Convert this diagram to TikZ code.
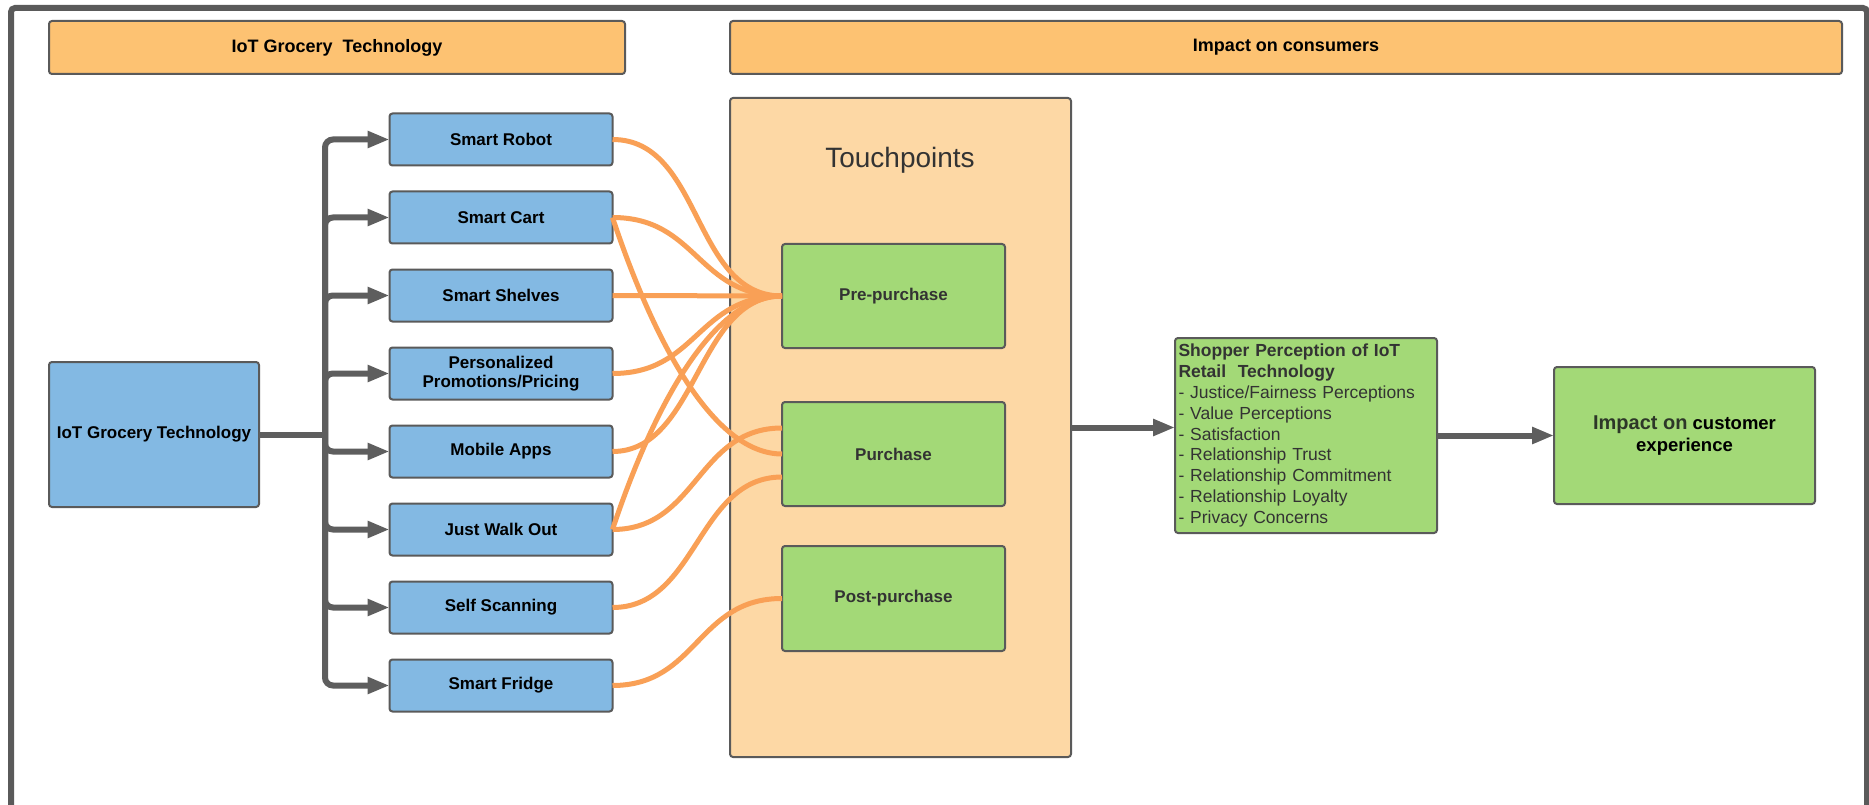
\documentclass[tikz,border=0pt]{standalone}
\usepackage{fontspec}
\setmainfont{Liberation Sans}
\usetikzlibrary{arrows.meta,positioning,calc}

\definecolor{HdrOrange}{RGB}{253,194,114}
\definecolor{TouchBg}{RGB}{253,216,165}
\definecolor{TechBlue}{RGB}{131,185,227}
\definecolor{StageGreen}{RGB}{163,217,119}
\definecolor{CurveOrange}{RGB}{249,160,86}
\definecolor{EdgeGray}{RGB}{90,90,90}
\definecolor{FlowGray}{RGB}{94,94,94}
\definecolor{TextGray}{RGB}{51,51,51}
\definecolor{ImpactGray}{RGB}{45,55,40}

\begin{document}
\begin{tikzpicture}[
    x=1pt, y=-1pt,
    node distance=26pt,
    header/.style={rectangle, rounded corners=3pt, draw=EdgeGray, line width=2pt, fill=HdrOrange,
                   minimum height=53pt, font=\fontsize{18}{22}\selectfont\bfseries},
    tech/.style={rectangle, rounded corners=3pt, draw=EdgeGray, line width=2pt, fill=TechBlue,
                 minimum width=223pt, minimum height=52pt, outer sep=0pt, align=center,
                 font=\fontsize{17}{19.5}\selectfont\bfseries},
    greenbox/.style={rectangle, rounded corners=3pt, draw=EdgeGray, line width=2pt, fill=StageGreen,
                     outer sep=0pt},
    stage/.style={greenbox, minimum width=223pt, minimum height=104pt, text=TextGray,
                  font=\fontsize{17}{20}\selectfont\bfseries},
    flow/.style={-{Triangle[length=22pt,width=16pt]}, line width=6pt, FlowGray},
    curve/.style={line width=5pt, CurveOrange}
]
\useasboundingbox (0,0) rectangle (1869,805);
\fill[white] (0,0) rectangle (1869,805);
\draw[EdgeGray, line width=6pt, rounded corners=4pt] (11,8) rectangle (1867,840);

% column headers
\node[header, minimum width=576pt] (hdrtech) at (337,47.5) {IoT Grocery~ Technology};
\node[header, minimum width=1112pt] (hdrimpact) at (1286,47.5) {Impact on consumers};

% touchpoints
\node[rectangle, rounded corners=3pt, draw=EdgeGray, line width=2pt, fill=TouchBg,
      minimum width=341pt, minimum height=659pt, outer sep=0pt] (tpbox) at (900.5,427.5) {};
\node[text=TextGray, font=\fontsize{28}{32}\selectfont] (tptitle) at (900,160) {Touchpoints};
\node[stage] (pre) at (893.5,296) {Pre-purchase};
\node[stage] (pur) at (893.5,454) {Purchase};
\node[stage, minimum height=105pt] (post) at (893.5,598.5) {Post-purchase};

% technologies
\node[tech, minimum width=210pt, minimum height=145pt] (iot) at (154,434.5) {IoT Grocery Technology};
\node[tech] (robot) at (501,139.5) {Smart Robot};
\node[tech, below=of robot] (cart) {Smart Cart};
\node[tech, below=of cart] (shelves) {Smart Shelves};
\node[tech, below=of shelves] (promo) {Personalized\\Promotions/Pricing};
\node[tech, below=of promo] (apps) {Mobile Apps};
\node[tech, below=of apps] (walk) {Just Walk Out};
\node[tech, below=of walk] (scan) {Self Scanning};
\node[tech, below=of scan] (fridge) {Smart Fridge};

% perception and outcome
\node[greenbox, minimum width=262pt, minimum height=195pt, text width=255pt, inner xsep=3pt,
      align=left, text=TextGray, font=\fontsize{17.5}{20.8}\selectfont] (percep) at (1306,435.5)
  {\textbf{Shopper Perception of IoT}\\
   \textbf{Retail~ Technology}\\
   - Justice/Fairness Perceptions\\
   - Value Perceptions\\
   - Satisfaction\\
   - Relationship Trust\\
   - Relationship Commitment\\
   - Relationship Loyalty\\
   - Privacy Concerns};
\node[greenbox, minimum width=261pt, minimum height=137pt, align=center,
      font=\fontsize{18.5}{22}\selectfont\bfseries] (impact) at (1684.5,435.5)
  {{\color{ImpactGray}\fontsize{20}{22}\selectfont Impact on} customer\\experience};

% bus to technologies
\coordinate (bus) at (325,434.5);
\draw[line width=6pt, FlowGray] (iot.east) -- (bus);
\foreach \t in {robot,cart,shelves,promo,apps,walk,scan,fridge}
  \draw[flow, rounded corners=8pt] (bus) |- (\t.west);

% technologies to touchpoints
\draw[curve] (robot.east) .. controls +(90,0) and +(-90,0) .. (pre.west);
\draw[curve] (cart.east) .. controls +(85,0) and +(-85,0) .. (pre.west);
\draw[curve] (cart.east) .. controls +(40,120) and +(-70,0) .. (pur.west);
\draw[curve] (shelves.east) -- (pre.west);
\draw[curve] (promo.east) .. controls +(85,0) and +(-85,0) .. (pre.west);
\draw[curve] (apps.east) .. controls +(85,0) and +(-85,0) .. (pre.west);
\draw[curve] (walk.east) .. controls +(40,-120) and +(-70,0) .. (pre.west);
\draw[curve] (walk.east) .. controls +(85,0) and +(-85,0) .. ([yshift=26pt]pur.west);
\draw[curve] (scan.east) .. controls +(85,0) and +(-85,0) .. ([yshift=-23pt]pur.west);
\draw[curve] (fridge.east) .. controls +(85,0) and +(-85,0) .. (post.west);

% towards the outcome
\draw[flow] (tpbox.east) -- (tpbox.east -| percep.west);
\draw[flow] (percep.east) -- (impact.west);
\end{tikzpicture}
\end{document}
